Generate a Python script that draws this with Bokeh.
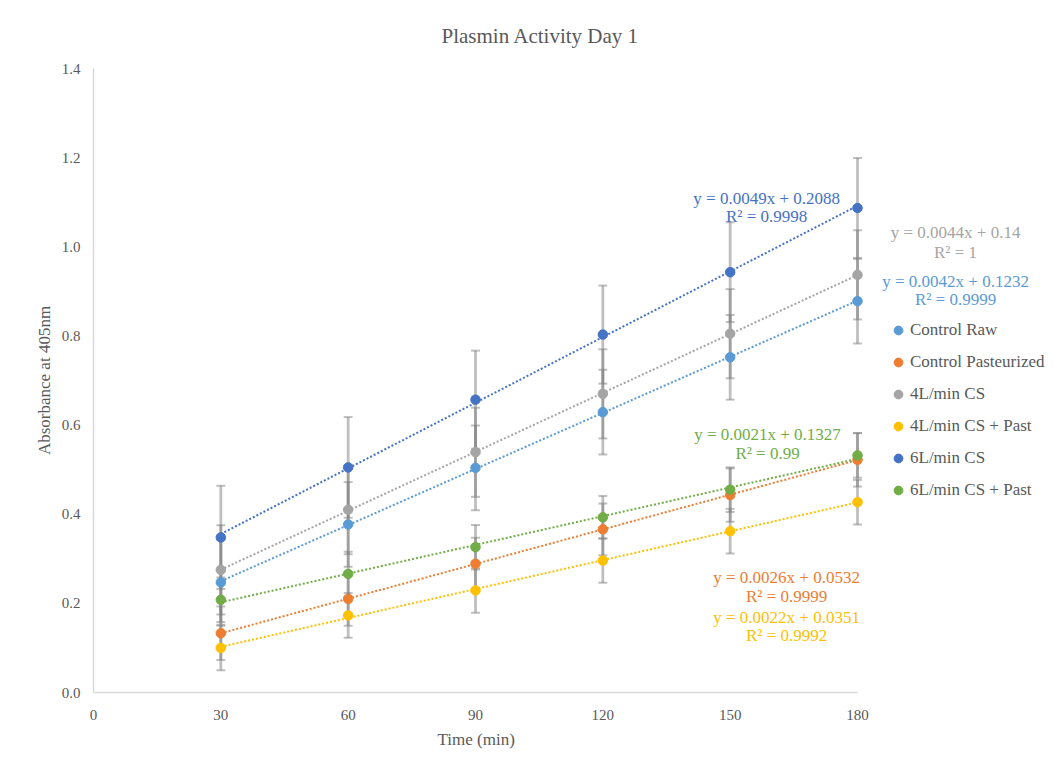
import numpy as np
from bokeh.plotting import figure
from bokeh.models import Range1d, FixedTicker, PrintfTickFormatter, Label, Legend, LegendItem, Title
from bokeh.embed import file_html
from bokeh.resources import INLINE

FONT = "Liberation Serif"
TXT = "#595959"

# ---------------- data ----------------
times = [30, 60, 90, 120, 150, 180]
x_ticks = [0, 30, 60, 90, 120, 150, 180]
y_ticks = [0.0, 0.2, 0.4, 0.6, 0.8, 1.0, 1.2, 1.4]

series_names = ["Control Raw", "Control Pasteurized", "4L/min CS",
                "4L/min CS + Past", "6L/min CS", "6L/min CS + Past"]
series_colors = ["#5B9BD5", "#ED7D31", "#A5A5A5", "#FFC000", "#4472C4", "#70AD47"]

control_raw = [0.247, 0.377, 0.504, 0.629, 0.752, 0.878]
control_past = [0.133, 0.210, 0.289, 0.366, 0.443, 0.522]
cs4 = [0.275, 0.410, 0.539, 0.670, 0.805, 0.937]
cs4_past = [0.100, 0.173, 0.229, 0.296, 0.362, 0.427]
cs6 = [0.348, 0.505, 0.657, 0.803, 0.943, 1.087]
cs6_past = [0.208, 0.266, 0.326, 0.393, 0.455, 0.532]

err_raw = [0.095, 0.095, 0.095, 0.095, 0.095, 0.095]
err_past = [0.060, 0.060, 0.058, 0.058, 0.060, 0.060]
err_cs4 = [0.100, 0.100, 0.100, 0.100, 0.100, 0.100]
err_cs4_past = [0.050, 0.050, 0.050, 0.050, 0.050, 0.050]
err_cs6 = [0.116, 0.113, 0.110, 0.110, 0.112, 0.112]
err_cs6_past = [0.050, 0.050, 0.050, 0.048, 0.050, 0.050]

eq_labels = ["y = 0.0042x + 0.1232", "y = 0.0026x + 0.0532", "y = 0.0044x + 0.14",
             "y = 0.0022x + 0.0351", "y = 0.0049x + 0.2088", "y = 0.0021x + 0.1327"]
r2_labels = ["R² = 0.9999", "R² = 0.9999", "R² = 1",
             "R² = 0.9992", "R² = 0.9998", "R² = 0.99"]

values = [control_raw, control_past, cs4, cs4_past, cs6, cs6_past]
errors = [err_raw, err_past, err_cs4, err_cs4_past, err_cs6, err_cs6_past]

# label placement (data units): (x, y of equation line, y of R² line)
label_pos = [(203.1, 0.922, 0.882), (163.3, 0.258, 0.215), (203.1, 1.032, 0.987),
             (163.3, 0.168, 0.128), (158.6, 1.108, 1.068), (158.8, 0.579, 0.536)]

# ---------------- layout ----------------
W, H = 1045, 753
LEFT, TOP, BOTTOM = 93, 68, 61
AXIS_PX = 764            # pixels spanned by 0..180 on the x axis
x_end = 180 * (W - LEFT) / AXIS_PX   # frame extends right to hold legend and labels

p = figure(width=W, height=H, output_backend="svg", toolbar_location=None,
           x_range=Range1d(0, x_end), y_range=Range1d(0, 1.4),
           min_border_left=LEFT, min_border_right=0, min_border_top=TOP, min_border_bottom=BOTTOM)
p.outline_line_color = None
p.xgrid.visible = False
p.ygrid.visible = False

p.title.text = "Plasmin Activity Day 1"
p.title.align = "left"
p.title.offset = 348
p.title.standoff = 42
p.title.text_font = FONT
p.title.text_font_size = "21px"
p.title.text_font_style = "normal"
p.title.text_color = TXT

for ax in (p.xaxis[0], p.yaxis[0]):
    ax.axis_line_color = "#d9d9d9"
    ax.axis_line_width = 1.5
    ax.major_tick_line_color = None
    ax.minor_tick_line_color = None
    ax.major_label_text_font = FONT
    ax.major_label_text_font_size = "15px"
    ax.major_label_text_color = TXT
    ax.axis_label_text_font = FONT
    ax.axis_label_text_font_size = "17px"
    ax.axis_label_text_font_style = "normal"
    ax.axis_label_text_color = TXT

p.xaxis.bounds = (0, 180)
p.xaxis.ticker = FixedTicker(ticks=x_ticks)
p.yaxis.ticker = FixedTicker(ticks=y_ticks)
p.yaxis.formatter = PrintfTickFormatter(format="%.1f")
p.yaxis.axis_label = "Absorbance at 405nm"
p.xaxis.major_label_standoff = 11
p.yaxis.major_label_standoff = 7
p.yaxis.axis_label_standoff = 5

# x-axis title placed under the 0..180 span (frame is wider than the axis)
xtitle = Title(text="Time (min)", align="left", offset=344, standoff=10,
               text_font=FONT, text_font_size="17px", text_font_style="normal", text_color=TXT)
p.add_layout(xtitle, "below")

cap = 1.05  # half cap width in data units
t = np.array(times, dtype=float)

# error bars
for vals, errs in zip(values, errors):
    v = np.array(vals)
    e = np.array(errs)
    p.segment(x0=t, y0=v - e, x1=t, y1=v + e, line_color="#7f7f7f", line_alpha=0.5, line_width=2.8)
    p.segment(x0=t - cap, y0=v + e, x1=t + cap, y1=v + e, line_color="#7f7f7f", line_alpha=0.5, line_width=2)
    p.segment(x0=t - cap, y0=v - e, x1=t + cap, y1=v - e, line_color="#7f7f7f", line_alpha=0.5, line_width=2)

# trend lines
for vals, col in zip(values, series_colors):
    m, b = np.polyfit(t, np.array(vals), 1)
    xs = np.array([times[0], times[-1]], dtype=float)
    p.line(xs, m * xs + b, line_color=col, line_width=2, line_dash="2 2")

# markers
items = []
for name, vals, col in zip(series_names, values, series_colors):
    r = p.scatter(t, vals, size=9.5, marker="circle", fill_color=col, line_color=col)
    items.append(LegendItem(label=name, renderers=[r]))

# equation labels
for (lx, ly1, ly2), eq, r2, col in zip(label_pos, eq_labels, r2_labels, series_colors):
    for txt, ly in ((eq, ly1), (r2, ly2)):
        p.add_layout(Label(x=lx, y=ly, text=txt, text_align="center", text_baseline="middle",
                           text_font=FONT, text_font_size="17px", text_color=col))

legend = Legend(items=items, location=(794, 191))
legend.border_line_color = None
legend.background_fill_alpha = 0
legend.margin = 0
legend.padding = 0
legend.spacing = 10
legend.glyph_width = 22
legend.glyph_height = 22
legend.label_height = 22
legend.label_standoff = 1
legend.label_text_font = FONT
legend.label_text_font_size = "17px"
legend.label_text_color = TXT
p.add_layout(legend, "center")

open("out.html", "w").write(file_html(p, INLINE))
